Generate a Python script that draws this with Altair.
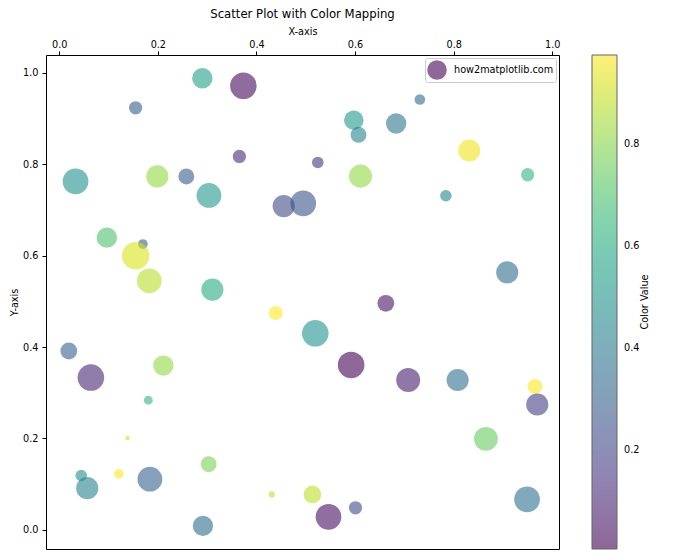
import altair as alt
import pandas as pd

# Data
x_vals = [0.3735, 0.2903, 0.1549, 0.7314, 0.5974, 0.6070, 0.6833, 0.8315, 0.3654, 0.5244,
          0.6110, 0.2578, 0.1989, 0.0331, 0.3037, 0.4553, 0.4949, 0.7842, 0.9500, 0.0966,
          0.1697, 0.1549, 0.1827, 0.3106, 0.9086, 0.4391, 0.6624, 0.5193, 0.0195, 0.0642,
          0.2111, 0.5920, 0.7077, 0.8080, 0.9649, 0.9695, 0.1807, 0.1387, 0.8654, 0.0447,
          0.0568, 0.1210, 0.1839, 0.3031, 0.4310, 0.5136, 0.2915, 0.5461, 0.6009, 0.9488]
y_vals = [0.9716, 0.9882, 0.9235, 0.9416, 0.8964, 0.8644, 0.8892, 0.8301, 0.8170, 0.8039,
          0.7739, 0.7733, 0.7733, 0.7623, 0.7317, 0.7083, 0.7143, 0.7311, 0.7770, 0.6393,
          0.6253, 0.5999, 0.5448, 0.5256, 0.5634, 0.4744, 0.4956, 0.4300, 0.3913, 0.3332,
          0.3594, 0.3607, 0.3279, 0.3279, 0.3135, 0.2742, 0.2836, 0.2011, 0.1990, 0.1189,
          0.0912, 0.1224, 0.1108, 0.1436, 0.0774, 0.0774, 0.0087, 0.0284, 0.0481, 0.0665]
color_vals = [0.03, 0.55, 0.28, 0.35, 0.52, 0.45, 0.38, 0.95, 0.12, 0.15,
              0.82, 0.28, 0.82, 0.48, 0.52, 0.22, 0.25, 0.45, 0.65, 0.70,
              0.30, 0.92, 0.87, 0.60, 0.35, 0.975, 0.05, 0.50, 0.30, 0.10,
              0.82, 0.0065, 0.08, 0.36, 0.97, 0.18, 0.65, 0.90, 0.75, 0.48,
              0.43, 0.97, 0.30, 0.78, 0.88, 0.88, 0.35, 0.04, 0.22, 0.37]
size_vals = [707, 415, 177, 113, 380, 254, 415, 491, 177, 133,
             531, 254, 491, 661, 616, 491, 661, 133, 177, 415,
             95, 755, 616, 491, 491, 201, 284, 707, 284, 707,
             415, 707, 573, 491, 227, 491, 79, 20, 573, 133,
             491, 95, 616, 254, 38, 314, 415, 661, 177, 661]
series_label = "how2matplotlib.com"
tick_values = [0.0, 0.2, 0.4, 0.6, 0.8, 1.0]
colorbar_ticks = [0.2, 0.4, 0.6, 0.8]

df = pd.DataFrame({"x": x_vals, "y": y_vals, "c": color_vals, "s": size_vals,
                   "series": [series_label] * len(x_vals)})

FONT = "DejaVu Sans"
W, H = 513, 494

points = alt.Chart(df).mark_point(filled=True, opacity=0.6, strokeWidth=0).encode(
    x=alt.X("x:Q",
            scale=alt.Scale(domain=[-0.0268, 1.0136], nice=False, zero=False),
            axis=alt.Axis(orient="top", values=tick_values, format=".1f", title="X-axis",
                          grid=False, domain=False, tickColor="black", tickSize=4,
                          labelPadding=2, titlePadding=3, labelFontSize=9.7,
                          titleFontSize=9.7, titleFontWeight="normal",
                          labelColor="black", titleColor="black",
                          labelFont=FONT, titleFont=FONT)),
    y=alt.Y("y:Q",
            scale=alt.Scale(domain=[-0.042, 1.039], nice=False, zero=False),
            axis=alt.Axis(values=tick_values, format=".1f", title="Y-axis",
                          grid=False, domain=False, tickColor="black", tickSize=4,
                          labelPadding=4, titlePadding=3, labelFontSize=9.7,
                          titleFontSize=9.7, titleFontWeight="normal",
                          labelColor="black", titleColor="black",
                          labelFont=FONT, titleFont=FONT)),
    size=alt.Size("s:Q", scale=None),
    color=alt.Color("c:Q",
                    scale=alt.Scale(scheme="viridis", domain=[0.0065, 0.975]),
                    legend=alt.Legend(orient="none", legendX=W + 33, legendY=0,
                                      direction="vertical", title=None,
                                      values=colorbar_ticks, format=".1f",
                                      gradientLength=H, gradientThickness=25,
                                      gradientStrokeColor="black", gradientStrokeWidth=1,
                                      labelFontSize=9.7, labelFont=FONT, labelColor="black",
                                      labelOffset=7)),
    shape=alt.Shape("series:N", scale=alt.Scale(range=["circle"]),
                    legend=alt.Legend(orient="top-right", title=None, offset=3, padding=2,
                                      strokeColor="#cccccc", fillColor="white",
                                      cornerRadius=2, symbolSize=380,
                                      symbolFillColor="#440154", symbolOpacity=0.6,
                                      symbolStrokeWidth=0, labelFontSize=9.7,
                                      labelFont=FONT, labelColor="black", labelOffset=7)),
)

cb_title = alt.Chart(pd.DataFrame({"t": ["Color Value"]})).mark_text(
    angle=270, font=FONT, fontSize=9.7, color="black", align="center", baseline="middle"
).encode(text="t:N", x=alt.value(W + 86), y=alt.value(H / 2))

chart = alt.layer(points, cb_title).properties(
    width=W, height=H,
    title=alt.TitleParams("Scatter Plot with Color Mapping", fontSize=11.7, font=FONT,
                          fontWeight="normal", color="black", anchor="middle", offset=5),
    autosize=alt.AutoSizeParams(type="none"),
    padding={"left": 38, "top": 47, "right": 130, "bottom": 5},
).configure_view(stroke="black", strokeWidth=1)

chart.save("out.html", embed_options={"renderer": "svg", "actions": False})
